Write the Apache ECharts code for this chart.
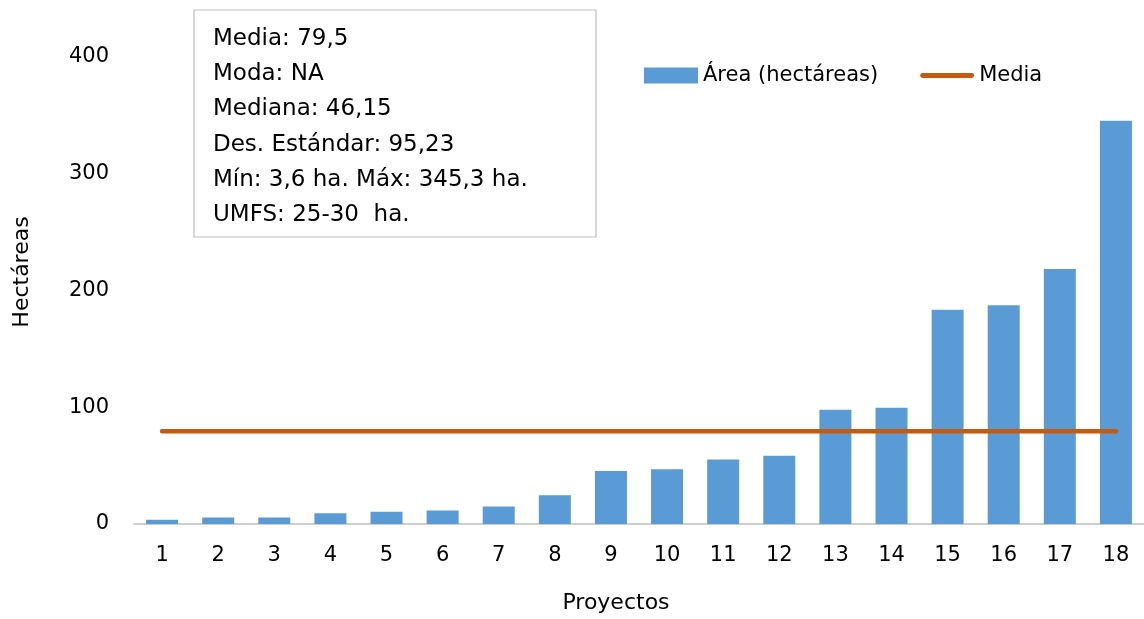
<!DOCTYPE html>
<html><head><meta charset="utf-8">
<script src="https://cdn.jsdelivr.net/npm/echarts@6/dist/echarts.min.js"></script>
<style>html,body{margin:0;padding:0;background:#fff}#c{width:1144px;height:619px}</style>
</head><body><div id="c"></div>
<script>
const categories = ['1','2','3','4','5','6','7','8','9','10','11','12','13','14','15','16','17','18'];
const areaValues = [3.6, 5.6, 5.6, 9.3, 10.4, 11.6, 15, 24.7, 45.3, 47, 55.3, 58.4, 97.9, 99.6, 183.6, 187.3, 218.4, 345.3];
const mediaValues = [79.5, 79.5, 79.5, 79.5, 79.5, 79.5, 79.5, 79.5, 79.5, 79.5, 79.5, 79.5, 79.5, 79.5, 79.5, 79.5, 79.5, 79.5];
const statsLines = ['Media: 79,5', 'Moda: NA', 'Mediana: 46,15', 'Des. Estándar: 95,23', 'Mín: 3,6 ha. Máx: 345,3 ha.', 'UMFS: 25-30  ha.'];
const xTitle = 'Proyectos';
const yTitle = 'Hectáreas';
const FONT = 'DejaVu Sans';
const lineIcon = 'path://M2.5,0 L53.5,0 A2.5,2.5 0 0 1 53.5,5 L2.5,5 A2.5,2.5 0 0 1 2.5,0 Z';
const chart = echarts.init(document.getElementById('c'), null, {renderer: 'canvas'});
chart.setOption({
  animation: false,
  backgroundColor: '#ffffff',
  textStyle: {fontFamily: FONT},
  grid: {left: 134, width: 1012, top: 57, bottom: 95, containLabel: false},
  legend: {
    left: 639, top: 60, itemWidth: 54, itemHeight: 16, itemGap: 42,
    textStyle: {fontSize: 21, color: '#000', fontFamily: FONT},
    data: [
      {name: 'Área (hectáreas)', icon: 'rect'},
      {name: 'Media', icon: lineIcon, itemStyle: {color: '#c55a11'}}
    ]
  },
  xAxis: {
    type: 'category', data: categories,
    axisLine: {lineStyle: {color: '#bfbfbf', width: 1.5}},
    axisTick: {show: false},
    axisLabel: {fontSize: 21, color: '#000', margin: 21, fontFamily: FONT}
  },
  yAxis: {
    type: 'value', min: 0, max: 400, interval: 100,
    axisLine: {show: false}, axisTick: {show: false}, splitLine: {show: false},
    axisLabel: {fontSize: 21, color: '#000', margin: 25, fontFamily: FONT}
  },
  series: [
    {name: 'Área (hectáreas)', type: 'bar', data: areaValues, barWidth: 32,
     itemStyle: {color: '#5b9bd5'}},
    {name: 'Media', type: 'line', data: mediaValues, symbol: 'none',
     lineStyle: {color: '#c55a11', width: 4.5, cap: 'round'}, itemStyle: {color: '#c55a11'}}
  ],
  graphic: [
    {type: 'rect', shape: {x: 194, y: 10, width: 402, height: 227},
     style: {fill: '#ffffff', stroke: '#bfbfbf', lineWidth: 1.2}, z: 10},
    {type: 'text', left: 213, top: 21, z: 11,
     style: {text: statsLines.join('\n'), fontSize: 23, lineHeight: 35.3, fill: '#000', fontFamily: FONT}},
    {type: 'text', x: 616, y: 603, z: 11,
     style: {text: xTitle, fontSize: 22, fill: '#000', fontFamily: FONT, align: 'center', verticalAlign: 'middle'}},
    {type: 'text', x: 22, y: 272, rotation: Math.PI / 2, z: 11,
     style: {text: yTitle, fontSize: 22, fill: '#000', fontFamily: FONT, align: 'center', verticalAlign: 'middle'}}
  ]
});
</script></body></html>
